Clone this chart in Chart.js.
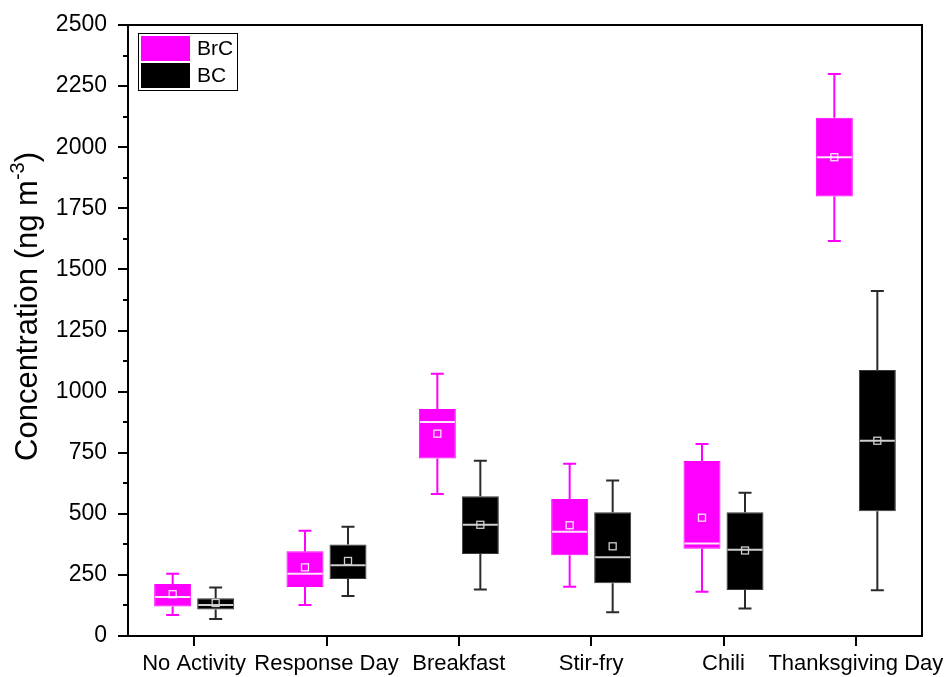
<!DOCTYPE html>
<html>
<head>
<meta charset="utf-8">
<script src="https://cdn.jsdelivr.net/npm/chart.js@4.4.1/dist/chart.umd.min.js"></script>
<style>
  html, body { margin: 0; padding: 0; background: #ffffff; }
  #wrap { width: 945px; height: 677px; }
</style>
</head>
<body>
<div id="wrap"><canvas id="c" width="945" height="677"></canvas></div>
<script>
const categories = ['No Activity', 'Response Day', 'Breakfast', 'Stir-fry', 'Chili', 'Thanksgiving Day'];

const brcMin    = [86, 127, 581, 202, 181, 1616];
const brcQ1     = [121, 200, 726, 330, 357, 1798];
const brcMedian = [160, 255, 876, 427, 378, 1959];
const brcMean   = [171, 281, 828, 453, 484, 1959];
const brcQ3     = [213, 347, 929, 561, 716, 2121];
const brcMax    = [255, 431, 1073, 705, 786, 2300];

const bcMin    = [70, 164, 190, 97, 113, 187];
const bcQ1     = [108, 233, 336, 216, 188, 510];
const bcMedian = [127, 289, 455, 322, 353, 799];
const bcMean   = [135, 307, 455, 367, 350, 799];
const bcQ3     = [154, 374, 572, 506, 506, 1088];
const bcMax    = [198, 447, 717, 636, 586, 1412];

const yMin = 0, yMax = 2500, yStep = 250, yMinorStep = 125;
const yTitle = 'Concentration (ng m';
const yTitleSup = '-3';
const yTitleEnd = ')';

const FONT = '"Liberation Sans", Arial, sans-serif';

function boxData(q1, q3) { return q1.map((v, i) => [v, q3[i]]); }

const boxPlugin = {
  id: 'boxWhiskers',
  afterDatasetsDraw(chart) {
    const ctx = chart.ctx, ys = chart.scales.y;
    chart.data.datasets.forEach((ds, di) => {
      const meta = chart.getDatasetMeta(di);
      meta.data.forEach((bar, i) => {
        const x = bar.x;
        const yq1 = ys.getPixelForValue(ds.q1[i]);
        const yq3 = ys.getPixelForValue(ds.q3[i]);
        const ymin = ys.getPixelForValue(ds.wMin[i]);
        const ymax = ys.getPixelForValue(ds.wMax[i]);
        const ymed = ys.getPixelForValue(ds.median[i]);
        const ymean = ys.getPixelForValue(ds.mean[i]);
        const half = bar.width / 2;
        ctx.save();
        ctx.strokeStyle = ds.whiskerColor;
        ctx.lineWidth = 2;
        ctx.beginPath();
        ctx.moveTo(x, yq3); ctx.lineTo(x, ymax);
        ctx.moveTo(x, yq1); ctx.lineTo(x, ymin);
        ctx.moveTo(x - 6.5, ymax); ctx.lineTo(x + 6.5, ymax);
        ctx.moveTo(x - 6.5, ymin); ctx.lineTo(x + 6.5, ymin);
        ctx.stroke();
        ctx.strokeStyle = ds.medianColor;
        ctx.lineWidth = 2;
        ctx.beginPath();
        ctx.moveTo(x - half + 1, ymed); ctx.lineTo(x + half - 1, ymed);
        ctx.stroke();
        ctx.lineWidth = 1.3;
        ctx.strokeStyle = ds.medianColor;
        ctx.strokeRect(x - 3.5, ymean - 3.5, 7, 7);
        ctx.restore();
      });
    });
  }
};

const framePlugin = {
  id: 'frame',
  afterDraw(chart) {
    const ctx = chart.ctx, a = chart.chartArea, ys = chart.scales.y;
    ctx.save();
    ctx.strokeStyle = '#000';
    ctx.lineWidth = 2;
    ctx.beginPath();
    ctx.moveTo(a.left, a.top); ctx.lineTo(a.right, a.top); ctx.lineTo(a.right, a.bottom);
    ctx.stroke();
    ctx.beginPath();
    for (let v = yMin + yMinorStep; v < yMax; v += yStep) {
      const py = Math.round(ys.getPixelForValue(v));
      ctx.moveTo(a.left, py); ctx.lineTo(a.left - 5, py);
    }
    ctx.stroke();
    ctx.fillStyle = '#000';
    ctx.textBaseline = 'alphabetic';
    const mainFont = '31px ' + FONT, supFont = '20px ' + FONT;
    ctx.font = mainFont;
    const w1 = ctx.measureText(yTitle).width;
    const w3 = ctx.measureText(yTitleEnd).width;
    ctx.font = supFont;
    const w2 = ctx.measureText(yTitleSup).width;
    const total = w1 + w2 + w3;
    const cy = (a.top + a.bottom) / 2 - 24;
    ctx.translate(37, cy);
    ctx.rotate(-Math.PI / 2);
    let sx = -total / 2;
    ctx.font = mainFont;
    ctx.fillText(yTitle, sx, 0);
    sx += w1;
    ctx.font = supFont;
    ctx.fillText(yTitleSup, sx, -13);
    sx += w2;
    ctx.font = mainFont;
    ctx.fillText(yTitleEnd, sx, 0);
    ctx.restore();
    ctx.save();
    const lx = a.left + 10, ly = a.top + 8;
    ctx.strokeStyle = '#000';
    ctx.lineWidth = 1;
    ctx.strokeRect(lx + 0.5, ly + 0.5, 99, 57);
    ctx.font = '21px ' + FONT;
    ctx.textBaseline = 'middle';
    chart.data.datasets.forEach((ds, di) => {
      const ry = ly + 3 + di * 27;
      ctx.fillStyle = ds.backgroundColor;
      ctx.fillRect(lx + 3, ry, 49, 25);
      ctx.fillStyle = '#000';
      ctx.fillText(ds.label, lx + 59, ry + 13);
    });
    ctx.restore();
  }
};

const chart = new Chart(document.getElementById('c'), {
  type: 'bar',
  data: {
    labels: categories,
    datasets: [
      {
        label: 'BrC',
        data: boxData(brcQ1, brcQ3),
        q1: brcQ1, q3: brcQ3, wMin: brcMin, wMax: brcMax, median: brcMedian, mean: brcMean,
        backgroundColor: '#FF00FF',
        borderColor: '#FF00FF',
        borderWidth: 1,
        borderSkipped: false,
        whiskerColor: '#FF00FF',
        medianColor: 'rgba(255,255,255,0.9)',
        categoryPercentage: 0.65,
        barPercentage: 0.86
      },
      {
        label: 'BC',
        data: boxData(bcQ1, bcQ3),
        q1: bcQ1, q3: bcQ3, wMin: bcMin, wMax: bcMax, median: bcMedian, mean: bcMean,
        backgroundColor: '#000000',
        borderColor: '#3a3a3a',
        borderWidth: 1,
        borderSkipped: false,
        whiskerColor: '#2a2a2a',
        medianColor: '#cfcfcf',
        categoryPercentage: 0.65,
        barPercentage: 0.86
      }
    ]
  },
  options: {
    responsive: false,
    animation: false,
    layout: { padding: { top: 25, right: 23, left: 0, bottom: 0 } },
    plugins: { legend: { display: false }, tooltip: { enabled: false } },
    scales: {
      x: {
        grid: { display: true, drawOnChartArea: false, drawTicks: true, tickLength: 10, offset: false, color: '#000', lineWidth: 2 },
        border: { display: true, color: '#000', width: 2 },
        ticks: { color: '#000', font: { family: FONT, size: 22 }, padding: 5, maxRotation: 0, autoSkip: false },
        afterFit(scale) { scale.height = 41; scale.paddingLeft = 0; scale.paddingRight = 0; }
      },
      y: {
        min: yMin, max: yMax,
        grid: { display: true, drawOnChartArea: false, drawTicks: true, tickLength: 10, color: '#000', lineWidth: 2 },
        border: { display: true, color: '#000', width: 2 },
        ticks: { stepSize: yStep, color: '#000', font: { family: FONT, size: 23 }, padding: 11,
                 callback: (v) => String(v) },
        afterFit(scale) { scale.width = 128; scale.paddingTop = 0; scale.paddingBottom = 0; }
      }
    }
  },
  plugins: [boxPlugin, framePlugin]
});
</script>
</body>
</html>
